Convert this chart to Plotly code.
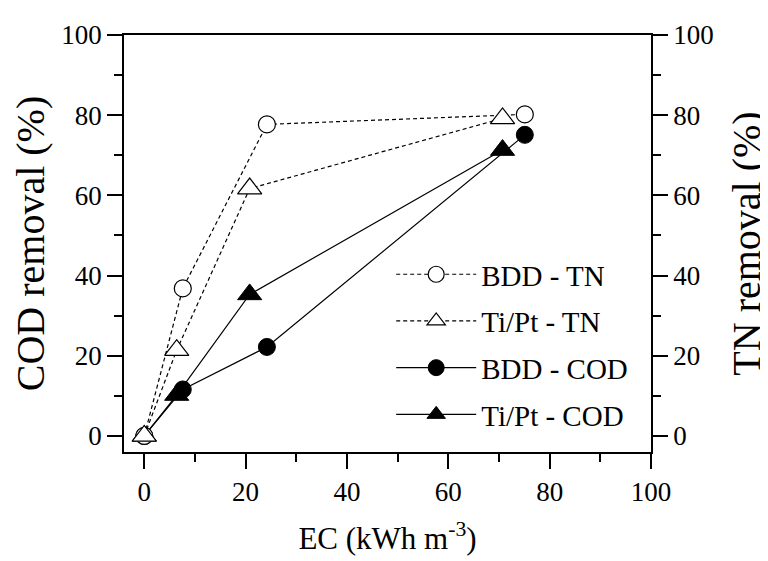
import plotly.graph_objects as go

# ---- data ----
ec_bdd = [0, 7.6, 24.2, 75.1]
ec_tipt = [0, 6.4, 20.8, 70.7]
tn_bdd = [0, 36.8, 77.7, 80.2]
tn_tipt = [0, 21.4, 61.7, 79.2]
cod_bdd = [0, 11.6, 22.2, 75.1]
cod_tipt = [0, 10.2, 35.3, 71.3]

x_ticks = [0, 20, 40, 60, 80, 100]
y_ticks = [0, 20, 40, 60, 80, 100]

FONT = "'Liberation Serif', 'Times New Roman', 'DejaVu Serif', serif"
LW = 1.2

fig = go.Figure()

# COD (left axis)
fig.add_trace(go.Scatter(
    x=ec_tipt, y=cod_tipt, name="Ti/Pt - COD", mode="lines+markers",
    line=dict(color="black", width=LW),
    marker=dict(symbol="triangle-up", size=21, color="black", line=dict(color="black", width=1)),
    legendrank=4, legendgroup="d", yaxis="y"))
fig.add_trace(go.Scatter(
    x=ec_bdd, y=cod_bdd, name="BDD - COD", mode="lines+markers",
    line=dict(color="black", width=LW),
    marker=dict(symbol="circle", size=17, color="black", line=dict(color="black", width=1)),
    legendrank=3, legendgroup="c", yaxis="y"))
# TN (right axis)
fig.add_trace(go.Scatter(
    x=ec_bdd, y=tn_bdd, name="BDD - TN", mode="lines+markers",
    line=dict(color="black", width=LW, dash="4px,3px"),
    marker=dict(symbol="circle", size=17, color="white", line=dict(color="black", width=1.2)),
    legendrank=1, legendgroup="a", yaxis="y2"))
fig.add_trace(go.Scatter(
    x=ec_tipt, y=tn_tipt, name="Ti/Pt - TN", mode="lines+markers",
    line=dict(color="black", width=LW, dash="4px,3px"),
    marker=dict(symbol="triangle-up", size=21, color="white", line=dict(color="black", width=1.2)),
    legendrank=2, legendgroup="b", yaxis="y2"))

axis_common = dict(
    range=[-4, 100], tickmode="array", tickvals=y_ticks,
    ticks="outside", ticklen=15, tickwidth=1.5, tickcolor="black",
    minor=dict(dtick=10, tick0=0, ticks="outside", ticklen=8, tickwidth=1.5, tickcolor="black"),
    showline=True, linecolor="black", linewidth=1.5,
    showgrid=False, zeroline=False,
    tickfont=dict(family=FONT, size=27, color="black"),
)

fig.update_layout(
    width=768, height=561, autosize=False,
    margin=dict(l=116, r=125, t=23, b=117),
    paper_bgcolor="white", plot_bgcolor="white",
    font=dict(family=FONT, color="black"),
    xaxis=dict(
        range=[-4, 100], tickmode="array", tickvals=x_ticks,
        ticks="outside", ticklen=15, tickwidth=1.5, tickcolor="black",
        minor=dict(dtick=10, tick0=0, ticks="outside", ticklen=8, tickwidth=1.5, tickcolor="black"),
        showline=True, linecolor="black", linewidth=1.5, mirror=True,
        showgrid=False, zeroline=False,
        tickfont=dict(family=FONT, size=27, color="black"),
        title=dict(text="EC (kWh m<sup>-3</sup>)", font=dict(family=FONT, size=31, color="black"), standoff=21),
    ),
    yaxis=dict(
        **axis_common,
        title=dict(text="COD removal (%)", font=dict(family=FONT, size=40, color="black"), standoff=7),
    ),
    yaxis2=dict(
        **axis_common,
        overlaying="y", side="right",
        title=dict(text="TN removal (%)", font=dict(family=FONT, size=40, color="black"), standoff=19),
    ),
    legend=dict(
        x=0.507, y=0.487, xanchor="left", yanchor="top",
        bgcolor="rgba(0,0,0,0)", borderwidth=0,
        font=dict(family=FONT, size=29, color="black"),
        tracegroupgap=6, itemwidth=80,
    ),
    showlegend=True,
)

fig.write_html("out.html")
